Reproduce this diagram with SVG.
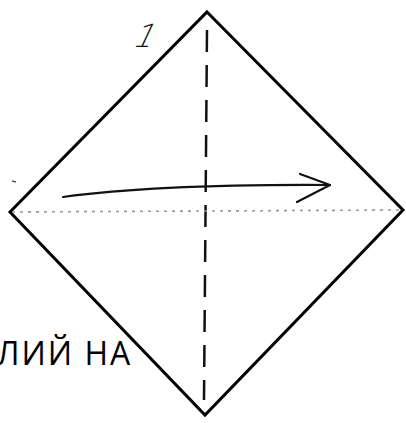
<svg xmlns="http://www.w3.org/2000/svg" width="406" height="423" viewBox="0 0 406 423">
<style>
.edge{fill:none;stroke:#000;stroke-width:3;stroke-linejoin:miter}
.fold{fill:none;stroke:#111;stroke-width:2.5;stroke-dasharray:22 13}
.dot{fill:none;stroke:#999;stroke-width:1.6;stroke-dasharray:3 5}
.arrow{fill:none;stroke:#111;stroke-width:2.2;stroke-linecap:round;stroke-linejoin:round}
.lbl{font-family:"Open Sans","Noto Sans",sans-serif;font-size:32px;letter-spacing:2px;fill:#000}
</style>
<rect width="406" height="423" fill="#fff"/>
<g id="square">
<polygon class="edge" points="207,12 403,210 205,415 10,212"/>
</g>
<g id="connectors">
<path class="fold" d="M207,30 L204,400"/>
<path class="dot" d="M12,212 L400,210"/>
<path class="arrow" d="M63,197 Q160,184 330,185"/>
<path class="arrow" d="M300,174 L330,185 L297,202"/>
</g>
<g id="mark">
<path d="M12,181 L16,182" stroke="#555" stroke-width="1.5"/>
</g>
<g id="label-1">
<text x="138" y="47" font-family="DejaVu Sans, sans-serif" font-size="32" font-weight="200" fill="#111" transform="translate(146 32) skewX(-25) translate(-146 -32)">1</text>
</g>
<g id="caption">
<text class="lbl" x="-3" y="365">ЛИЙ НА</text>
</g>
</svg>
